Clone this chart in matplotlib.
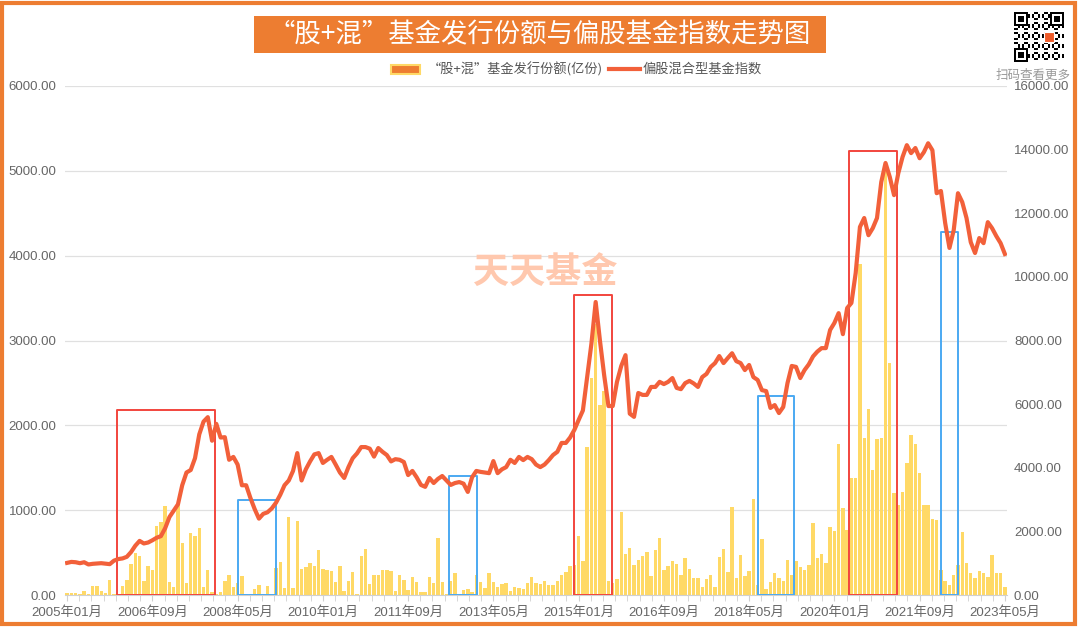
import numpy as np
import pandas as pd
import matplotlib
matplotlib.use("Agg")
import matplotlib.pyplot as plt
from matplotlib.patches import Rectangle
from matplotlib.lines import Line2D

plt.rcParams['font.family'] = ['Liberation Sans', 'Noto Sans CJK SC']

# monthly categories 2005-01 .. 2023-05
months = pd.date_range("2005-01-01", "2023-05-01", freq="MS")
month_labels = [f"{d.year}年{d.month:02d}月" for d in months]

# "股+混" 基金发行份额 (亿份), left axis
issue = [
    20, 20, 20, 15, 45, 10, 110, 110, 50, 20,
    177, 10, 5, 110, 177, 365, 490, 465, 170, 340,
    290, 810, 860, 1050, 150, 90, 1060, 615, 140, 730,
    690, 790, 100, 300, 30, 10, 30, 170, 230, 100,
    140, 220, 10, 10, 70, 120, 10, 110, 10, 315,
    390, 80, 920, 80, 875, 305, 335, 375, 345, 535,
    305, 300, 280, 155, 345, 50, 165, 275, 10, 455,
    540, 125, 230, 240, 295, 295, 280, 50, 230, 175,
    60, 210, 155, 40, 40, 215, 140, 670, 150, 10,
    170, 265, 10, 60, 70, 40, 240, 150, 80, 255,
    155, 100, 130, 145, 45, 90, 80, 75, 140, 210,
    140, 135, 160, 120, 120, 170, 235, 275, 340, 355,
    695, 395, 1750, 2555, 3200, 2240, 2400, 160, 140, 190,
    975, 485, 550, 355, 410, 460, 505, 225, 530, 670,
    300, 340, 400, 365, 235, 440, 305, 205, 195, 100,
    190, 235, 100, 450, 540, 275, 1035, 195, 470, 225,
    285, 1130, 120, 655, 65, 155, 265, 195, 170, 410,
    235, 400, 335, 295, 355, 850, 440, 480, 380, 800,
    755, 1775, 1030, 765, 1375, 1375, 3900, 1850, 2190, 1475,
    1835, 1850, 5110, 2740, 1200, 1060, 1220, 1560, 1885, 1780,
    1440, 1060, 1060, 900, 880, 295, 170, 120, 230, 355,
    745, 375, 255, 205, 285, 265, 210, 470, 255, 265,
    90,
]

# 偏股混合型基金指数, right axis
index = [
    1010, 1040, 1030, 1000, 1030, 960, 980, 990, 1000, 985,
    970, 1080, 1130, 1150, 1200, 1350, 1550, 1700, 1620, 1650,
    1720, 1800, 1850, 2100, 2450, 2650, 2850, 3450, 3850, 3930,
    4300, 5050, 5450, 5590, 4850, 5380, 4950, 4960, 4250, 4340,
    4100, 3450, 3450, 3050, 2700, 2400, 2550, 2600, 2720, 2900,
    3150, 3450, 3600, 3900, 4460, 3600, 3950, 4200, 4420, 4460,
    4150, 4250, 4340, 4100, 3850, 3680, 4020, 4300, 4450, 4650,
    4650, 4600, 4350, 4620, 4500, 4400, 4200, 4270, 4250, 4180,
    3770, 3900, 3700, 3460, 3400, 3680, 3520, 3650, 3740, 3600,
    3460, 3520, 3550, 3500, 3240, 3700, 3900, 3870, 3850, 3830,
    4210, 3830, 3950, 4020, 4250, 4150, 4340, 4240, 4340, 4270,
    4100, 4020, 4100, 4240, 4400, 4500, 4780, 4780, 4950, 5190,
    5500, 5800, 6850, 7900, 9210, 8000, 6900, 5940, 5940, 6700,
    7200, 7540, 5700, 5600, 6350, 6290, 6290, 6540, 6540, 6700,
    6630, 6700, 6820, 6510, 6470, 6660, 6730, 6650, 6540, 6850,
    6950, 7170, 7290, 7510, 7290, 7450, 7600, 7350, 7290, 7070,
    7230, 6850, 6760, 6440, 6410, 5880, 5970, 5720, 5910, 6660,
    7200, 7170, 6820, 7070, 7250, 7500, 7650, 7760, 7760, 8330,
    8550, 8860, 8200, 9020, 9180, 10120, 11570, 11850, 11310, 11530,
    11850, 12980, 13580, 13140, 12570, 13260, 13770, 14140, 13890, 14050,
    13730, 13920, 14200, 13980, 12630, 12700, 11690, 10910, 11470, 12630,
    12350, 11850, 11090, 10750, 11220, 11060, 11720, 11530, 11280, 11060,
    10720,
]

# highlighted periods: (start idx, end idx, top on left axis, kind)
boxes = [
    (11.75, 34.8, 2180, "red"),
    (40.2, 49.1, 1120, "blue"),
    (89.5, 96.1, 1400, "blue"),
    (118.9, 127.8, 3540, "red"),
    (162.2, 170.6, 2345, "blue"),
    (183.5, 194.8, 5235, "red"),
    (204.9, 208.9, 4280, "blue"),
]

BAR = "#FFD966"
LINE = "#F2603A"
ORANGE = "#ED7D31"
GREY = "#666666"
W, H = 1080, 628


def fx(px):
    return px / W


def fy(py):
    return 1 - py / H


fig = plt.figure(figsize=(W / 100, H / 100), dpi=100)
ax = fig.add_axes([fx(65), fy(595), fx(1007) - fx(65), fy(86) - fy(595)])
ax2 = ax.twinx()

x = np.arange(len(months))
ax.bar(x, issue, width=0.8, color=BAR, zorder=2)

for x0, x1, top, kind in boxes:
    col = "#F2453D" if kind == "red" else "#4BA9F2"
    ax.add_patch(Rectangle((x0, 0), x1 - x0, top, fill=False, edgecolor=col,
                           lw=1.4, joinstyle="round", zorder=3))

ax2.plot(x, index, color=LINE, lw=3.0, solid_joinstyle="round", zorder=4)

ax.set_xlim(-0.5, len(months) - 0.5)
ax.set_ylim(0, 6000)
ax2.set_ylim(0, 16000)

ax.set_yticks(np.arange(0, 6001, 1000))
ax.set_yticklabels([f"{v:.2f}" for v in range(0, 6001, 1000)])
ax2.set_yticks(np.arange(0, 16001, 2000))
ax2.set_yticklabels([f"{v:.2f}" for v in range(0, 16001, 2000)])

lab_pos = np.arange(0, len(months), 20)
ax.set_xticks(lab_pos)
ax.set_xticklabels([month_labels[i] for i in lab_pos])
ax.set_xticks(np.arange(0, len(months) - 0.5, 20 / 7), minor=True)

ax.grid(axis="y", color="#E0E0E0", lw=0.9)
ax.set_axisbelow(True)
for a in (ax, ax2):
    for s in a.spines.values():
        s.set_visible(False)
ax.spines["bottom"].set_visible(True)
ax.spines["bottom"].set_color("#D0D0D0")

ax.tick_params(axis="y", length=0, pad=6, labelsize=9.5, labelcolor=GREY)
ax2.tick_params(axis="y", length=0, pad=5, labelsize=9.5, labelcolor=GREY)
ax.tick_params(axis="x", which="both", length=4, color="#D0D0D0",
               labelsize=9.5, labelcolor=GREY, pad=4)
ax.tick_params(axis="x", which="major", length=4)

# watermark
fig.text(fx(545), fy(272), "天天基金", family=["Noto Sans CJK SC"], fontsize=26,
         fontweight="bold", color="#FFC8AE", ha="center", va="center", zorder=0)

# title banner
fig.patches.append(Rectangle((fx(254), fy(53)), fx(826) - fx(254), fy(16) - fy(53),
                             transform=fig.transFigure, facecolor=ORANGE,
                             edgecolor="none"))
fig.text(fx(540), fy(35), "“股+混”基金发行份额与偏股基金指数走势图",
         family=["Noto Sans CJK SC"], fontsize=19, color="white",
         ha="center", va="center")

# legend
fig.patches.append(Rectangle((fx(391), fy(74)), fx(420) - fx(391), fy(65) - fy(74),
                             transform=fig.transFigure, facecolor=ORANGE,
                             edgecolor=BAR, lw=1.5))
fig.text(fx(428), fy(69), "“股+混”基金发行份额(亿份)", family=["Noto Sans CJK SC"],
         fontsize=9.5, color="#555555", ha="left", va="center")
fig.lines.append(Line2D([fx(609), fx(640)], [fy(69), fy(69)],
                        transform=fig.transFigure, color=LINE, lw=3))
fig.text(fx(643), fy(69), "偏股混合型基金指数", family=["Noto Sans CJK SC"],
         fontsize=9.5, color="#555555", ha="left", va="center")

# qr-code style badge
qa = fig.add_axes([fx(1014), fy(63), fx(1064) - fx(1014), fy(11) - fy(63)])
n = 25
ii, jj = np.meshgrid(np.arange(n), np.arange(n), indexing="ij")
qr = (((ii * 7 + jj * 11 + ii * jj) % 5) < 2).astype(float)
for r0, c0 in [(0, 0), (0, n - 7), (n - 7, 0)]:
    qr[r0:r0 + 7, c0:c0 + 7] = 1
    qr[r0 + 1:r0 + 6, c0 + 1:c0 + 6] = 0
    qr[r0 + 2:r0 + 5, c0 + 2:c0 + 5] = 1
qa.imshow(1 - qr, cmap="gray", interpolation="nearest", vmin=0, vmax=1)
qa.add_patch(Rectangle((14.5, 9.5), 5, 5, facecolor="#F05A28", edgecolor="white", lw=0.8))
qa.axis("off")
fig.text(fx(1033), fy(75), "扫码查看更多", family=["Noto Sans CJK SC"], fontsize=9,
         color="#999999", ha="center", va="center")

# outer frame
fig.patches.append(Rectangle((fx(2), fy(624)), fx(1075) - fx(2), fy(3) - fy(624),
                             transform=fig.transFigure, fill=False,
                             edgecolor=ORANGE, lw=3))

fig.savefig("out.png", dpi=100, facecolor="white")
